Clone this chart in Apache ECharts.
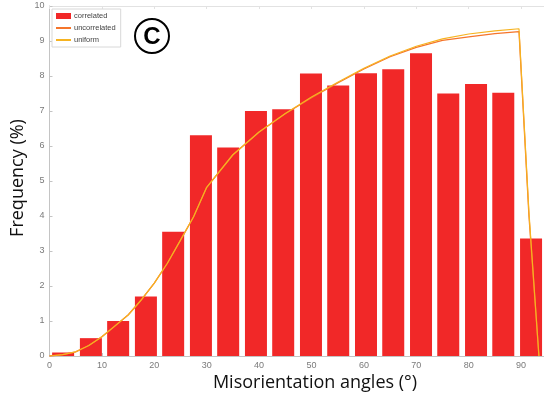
<!DOCTYPE html>
<html><head><meta charset="utf-8">
<script src="https://cdn.jsdelivr.net/npm/echarts@6/dist/echarts.min.js"></script>
<style>html,body{margin:0;padding:0;background:#fff}#c{width:544px;height:397px}</style>
</head><body><div id="c"></div>
<script>
// Histogram bins (degrees) and correlated frequencies (%)
const binCenters = [2.6, 7.9, 13.1, 18.4, 23.6, 28.9, 34.1, 39.4, 44.6, 49.9, 55.1, 60.4, 65.6, 70.9, 76.1, 81.4, 86.6, 91.9];
const correlated = [0.1, 0.51, 1.0, 1.7, 3.55, 6.31, 5.96, 7.0, 7.05, 8.07, 7.73, 8.08, 8.19, 8.65, 7.5, 7.77, 7.52, 3.36];
// Curve sample angles and values
const curveAngles = [0, 2.5, 5, 7.5, 10, 12.5, 15, 17.5, 20, 22.5, 25, 27.5, 30, 35, 40, 45, 50, 55, 60, 65, 70, 75, 80, 85, 89.6, 91.5, 93.4];
const uncorrelated = [0, 0.04, 0.12, 0.3, 0.55, 0.86, 1.17, 1.6, 2.08, 2.65, 3.31, 3.98, 4.82, 5.75, 6.4, 6.92, 7.38, 7.8, 8.2, 8.55, 8.82, 9.02, 9.12, 9.21, 9.27, 4.0, 0];
const uniform = [0, 0.04, 0.12, 0.3, 0.55, 0.86, 1.17, 1.6, 2.08, 2.65, 3.31, 3.98, 4.82, 5.75, 6.4, 6.93, 7.4, 7.82, 8.22, 8.57, 8.85, 9.06, 9.2, 9.29, 9.35, 4.1, 0];
const seriesNames = ['correlated', 'uncorrelated', 'uniform'];

const chart = echarts.init(document.getElementById('c'), null, {renderer: 'canvas'});
const axisColor = '#c4c4c4';
const labelStyle = {fontSize: 9, color: '#7a7a7a', fontFamily: 'Liberation Sans', margin: 5};
chart.setOption({
  animation: false,
  backgroundColor: '#fff',
  grid: {left: 49.5, top: 6, width: 524, height: 350, outerBoundsMode: 'none', containLabel: false},
  xAxis: [{
    type: 'value', min: 0, max: 100, interval: 10, position: 'bottom',
    axisLine: {show: true, lineStyle: {color: axisColor, width: 1}},
    axisTick: {show: true, inside: true, length: 3, lineStyle: {color: axisColor}},
    axisLabel: labelStyle,
    splitLine: {show: false}
  }, {
    type: 'value', min: 0, max: 100, interval: 10, position: 'top',
    axisLine: {show: true, lineStyle: {color: '#e2e2e2', width: 1}},
    axisTick: {show: true, inside: true, length: 3, lineStyle: {color: '#e2e2e2'}},
    axisLabel: {show: false},
    splitLine: {show: false}
  }],
  yAxis: {
    type: 'value', min: 0, max: 10, interval: 1,
    axisLine: {show: true, lineStyle: {color: axisColor, width: 1}},
    axisTick: {show: true, inside: true, length: 3, lineStyle: {color: axisColor}},
    axisLabel: labelStyle,
    splitLine: {show: false}
  },
  legend: {
    data: [
      {name: seriesNames[0], icon: 'rect'},
      {name: seriesNames[1], itemStyle: {opacity: 0}},
      {name: seriesNames[2], itemStyle: {opacity: 0}}
    ],
    orient: 'vertical', left: 52, top: 9,
    itemWidth: 15, itemHeight: 6, itemGap: 4,
    padding: [3, 5, 3, 3],
    borderColor: '#d8d8d8', borderWidth: 1, backgroundColor: '#fff',
    textStyle: {fontSize: 7.5, color: '#444', fontFamily: 'Liberation Sans', padding: [0, 0, 0, -2]}
  },
  series: [{
    name: seriesNames[0], type: 'bar', xAxisIndex: 0,
    data: binCenters.map((x, i) => [x, correlated[i]]),
    barWidth: 22,
    itemStyle: {color: '#F12828'}
  }, {
    name: seriesNames[1], type: 'line', xAxisIndex: 0,
    data: curveAngles.map((x, i) => [x, uncorrelated[i]]),
    symbol: 'none', lineStyle: {color: '#F5752B', width: 1.3},
    itemStyle: {color: '#F5752B'}
  }, {
    name: seriesNames[2], type: 'line', xAxisIndex: 0,
    data: curveAngles.map((x, i) => [x, uniform[i]]),
    symbol: 'none', lineStyle: {color: '#F6B320', width: 1.2},
    itemStyle: {color: '#F6B320'}
  }],
  graphic: [
    {type: 'circle', shape: {cx: 152, cy: 36, r: 17}, style: {fill: '#fff', stroke: '#000', lineWidth: 2}, z: 100},
    {type: 'text', x: 152, y: 37, style: {text: 'C', fontSize: 24, fontWeight: 'bold', fontFamily: 'Liberation Sans', fill: '#000', textAlign: 'center', textVerticalAlign: 'middle'}, z: 101},
    {type: 'text', x: 315, y: 383, style: {text: 'Misorientation angles (°)', fontSize: 18, fontFamily: 'Open Sans', fill: '#111', textAlign: 'center', textVerticalAlign: 'middle'}},
    {type: 'text', x: 18, y: 178, rotation: Math.PI / 2, style: {text: 'Frequency (%)', fontSize: 18, fontFamily: 'Open Sans', fill: '#111', textAlign: 'center', textVerticalAlign: 'middle'}}
  ]
});
</script>
</body></html>
